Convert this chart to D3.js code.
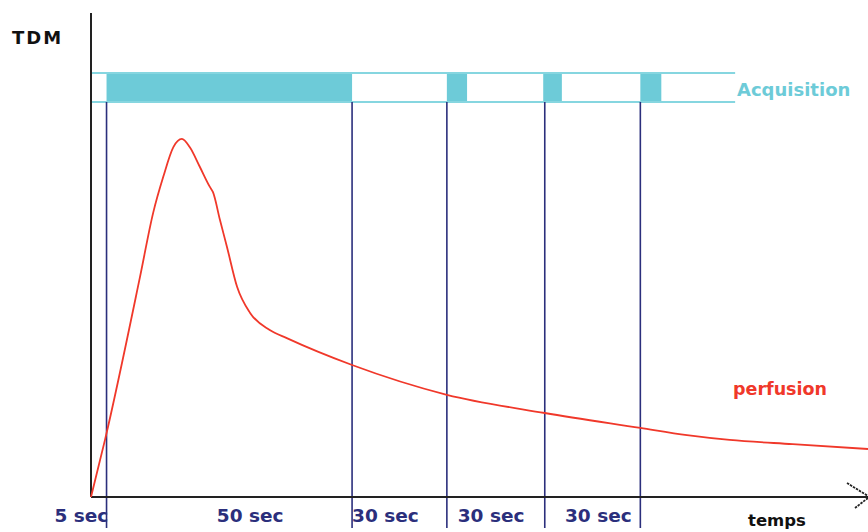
<!DOCTYPE html>
<html><head><meta charset="utf-8">
<script src="https://cdn.jsdelivr.net/npm/d3@7"></script>
<style>html,body{margin:0;padding:0;background:#fff;}svg{display:block;}</style>
</head><body>
<svg id="c" width="868" height="532"></svg>
<script>
// ---- data ----
const curveT = [0, 1.8, 6.3, 8.0, 9.3, 10.6, 11.7, 12.7, 14.0, 15.3, 15.7, 16.6, 17.5, 18.8, 20.5, 23.0, 25.2, 33.6, 45.8, 58.4, 70.7, 76.7, 82.2, 90.3, 100];
const curveV = [0, 11.9, 45.8, 59.2, 66.7, 72.9, 74.6, 72.9, 68.8, 64.6, 63.5, 57.7, 52.1, 43.8, 38.3, 34.8, 33.1, 27.5, 21.3, 17.5, 14.4, 12.9, 11.9, 11.0, 10.0];
const phaseBounds = [2.0, 33.6, 45.8, 58.4, 70.7];
const acqStart = [2.0, 45.8, 58.2, 70.7];
const acqEnd = [33.6, 48.4, 60.6, 73.4];
const bandEnd = 82.9;
const phaseLabels = ["5 sec", "50 sec", "30 sec", "30 sec", "30 sec"];
const phaseLabelAt = [-4.7, 16.2, 33.6, 47.2, 61.0];

// ---- layout ----
const svg = d3.select("#c");
const x = d3.scaleLinear().domain([0, 100]).range([91, 868]);
const y = d3.scaleLinear().domain([0, 100]).range([497, 17]);
const bandTop = 73, bandBot = 102;
const navy = "#2b2f7c", cyan = "#6dcbd8", red = "#f0382a";

// acquisition band
svg.selectAll("rect.acq").data(acqStart).join("rect").attr("class","acq")
  .attr("x", (d,i) => x(d)).attr("width", (d,i) => x(acqEnd[i]) - x(d))
  .attr("y", bandTop).attr("height", bandBot - bandTop).attr("fill", cyan);
[bandTop, bandBot].forEach(yy => svg.append("line")
  .attr("x1", x(0)).attr("x2", x(bandEnd)).attr("y1", yy).attr("y2", yy)
  .attr("stroke", "#86d6e0").attr("stroke-width", 2));

// phase lines
svg.selectAll("line.ph").data(phaseBounds).join("line").attr("class","ph")
  .attr("x1", d => x(d)).attr("x2", d => x(d))
  .attr("y1", bandBot).attr("y2", 528)
  .attr("stroke", navy).attr("stroke-width", 1.6);

// axes
svg.append("line").attr("x1", 91).attr("x2", 91).attr("y1", 13).attr("y2", y(0))
  .attr("stroke", "#222").attr("stroke-width", 2);
svg.append("line").attr("x1", 91).attr("x2", x(100)).attr("y1", y(0)).attr("y2", y(0))
  .attr("stroke", "#222").attr("stroke-width", 2);
svg.append("path").attr("d", `M847,483 L868,496 M868,498 L855,508`)
  .attr("stroke", "#222").attr("stroke-width", 1.8).attr("fill", "none")
  .attr("stroke-dasharray", "2.5,1");

// curve
const pts = curveT.map((t,i) => [t, curveV[i]]);
svg.append("path").datum(pts)
  .attr("d", d3.line().x(d => x(d[0])).y(d => y(d[1])).curve(d3.curveMonotoneX))
  .attr("fill", "none").attr("stroke", red).attr("stroke-width", 1.8);

// texts
const font = "'DejaVu Sans', sans-serif";
svg.append("text").attr("x", 12).attr("y", 44).text("TDM")
  .attr("font-family", font).attr("font-weight", "bold").attr("font-size", 18)
  .attr("letter-spacing", 2).attr("fill", "#111");
svg.append("text").attr("x", 737).attr("y", 96).text("Acquisition")
  .attr("font-family", font).attr("font-weight", "bold").attr("font-size", 18)
  .attr("fill", cyan);
svg.append("text").attr("x", 733).attr("y", 395).text("perfusion")
  .attr("font-family", font).attr("font-weight", "bold").attr("font-size", 17.5)
  .attr("fill", red);
svg.selectAll("text.pl").data(phaseLabels).join("text").attr("class","pl")
  .attr("x", (d,i) => x(phaseLabelAt[i])).attr("y", 522).text(d => d)
  .attr("font-family", font).attr("font-weight", "bold").attr("font-size", 18.5)
  .attr("fill", navy);
svg.append("text").attr("x", 748).attr("y", 526).text("temps")
  .attr("font-family", font).attr("font-weight", "bold").attr("font-size", 16.5)
  .attr("fill", "#111");
</script>
</body></html>
